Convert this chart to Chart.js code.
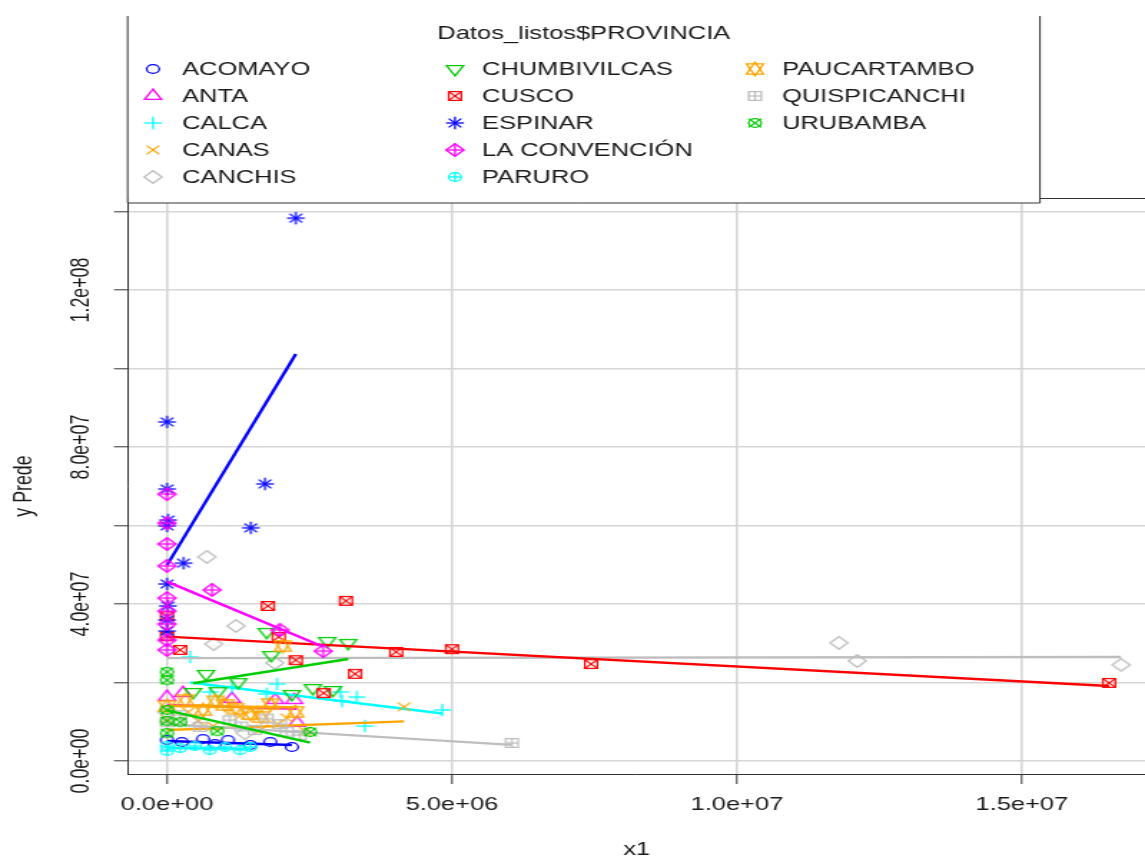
<!DOCTYPE html>
<html>
<head>
<meta charset="utf-8">
<script src="https://cdn.jsdelivr.net/npm/chart.js@4.4.1/dist/chart.umd.min.js"></script>
<style>
  html, body { margin: 0; padding: 0; background: #ffffff; overflow: hidden; }
</style>
</head>
<body>
<canvas id="plot" width="800" height="859" style="width:1145px;height:859px;display:block"></canvas>
<script>
// ---- data -------------------------------------------------------------
const provinces = ['ACOMAYO', 'ANTA', 'CALCA', 'CANAS', 'CANCHIS', 'CHUMBIVILCAS', 'CUSCO',
  'ESPINAR', 'LA CONVENCIÓN', 'PARURO', 'PAUCARTAMBO', 'QUISPICANCHI', 'URUBAMBA'];

const xTicks = [0, 5e6, 1e7, 1.5e7];
const xTickLabels = ['0.0e+00', '5.0e+06', '1.0e+07', '1.5e+07'];
const yTicks = [0, 2e7, 4e7, 6e7, 8e7, 1e8, 1.2e8, 1.4e8];
const yTickLabels = ['0.0e+00', '', '4.0e+07', '', '8.0e+07', '', '1.2e+08', ''];

// observations per province: [x1, y Prede]
const acomayo = [[0, 5.35e6], [2.6e5, 4.84e6], [6.3e5, 5.6e6], [8.4e5, 4.33e6], [1.07e6, 5.35e6],
  [1.46e6, 4.08e6], [1.81e6, 4.84e6], [2.19e6, 3.57e6]];
const anta = [[0, 1.63e7], [2.81e5, 1.73e7], [1.14e6, 1.58e7], [1.9e6, 1.55e7], [2.23e6, 1.55e7],
  [2.28e6, 9.7e6]];
const calca = [[4.04e5, 2.65e7], [7.54e5, 1.76e7], [1.14e6, 1.89e7], [1.75e6, 1.71e7], [1.93e6, 1.96e7],
  [3.04e6, 1.76e7], [3.07e6, 1.53e7], [3.33e6, 1.63e7], [3.47e6, 8.9e6], [4.83e6, 1.30e7]];
const canas = [[0, 1.07e7], [3.7e5, 1.25e7], [5.5e5, 1.02e7], [8.1e5, 8.9e6], [1.28e6, 1.15e7],
  [1.5e6, 1.3e7], [1.67e6, 8.2e6], [1.95e6, 9.4e6], [2.1e6, 1.10e7], [2.42e6, 7.6e6], [4.16e6, 1.38e7]];
const canchis = [[0, 1.25e7], [4.0e5, 1.04e7], [7.0e5, 5.2e7], [8.2e5, 2.98e7], [1.21e6, 3.44e7],
  [1.37e6, 7.1e6], [1.89e6, 2.5e7], [1.179e7, 3.01e7], [1.211e7, 2.55e7], [1.674e7, 2.45e7]];
const chumbivilcas = [[4.56e5, 1.76e7], [6.84e5, 2.22e7], [8.95e5, 1.78e7], [1.25e6, 2.01e7],
  [1.75e6, 3.29e7], [1.83e6, 2.70e7], [2.19e6, 1.71e7], [2.56e6, 1.86e7], [2.81e6, 3.06e7],
  [2.91e6, 1.81e7], [3.18e6, 3.01e7]];
const cusco = [[0, 3.69e7], [0, 3.18e7], [2.3e5, 2.83e7], [1.77e6, 3.95e7], [1.96e6, 3.16e7],
  [2.26e6, 2.57e7], [2.75e6, 1.73e7], [3.14e6, 4.08e7], [3.3e6, 2.22e7], [4.02e6, 2.78e7],
  [5.0e6, 2.85e7], [7.44e6, 2.47e7], [1.653e7, 1.99e7]];
const espinar = [[0, 8.64e7], [0, 6.93e7], [1.8e4, 6.14e7], [0, 5.99e7], [0, 4.51e7], [1.5e4, 3.95e7],
  [0, 3.59e7], [0, 3.31e7], [2.9e5, 5.04e7], [1.47e6, 5.94e7], [1.72e6, 7.06e7], [2.26e6, 1.383e8]];
const laConvencion = [[0, 6.8e7], [0, 6.06e7], [0, 5.53e7], [0, 4.97e7], [0, 4.15e7], [0, 3.82e7],
  [0, 3.49e7], [0, 3.08e7], [0, 2.83e7], [7.9e5, 4.36e7], [1.98e6, 3.34e7], [2.74e6, 2.8e7]];
const paruro = [[0, 3.82e6], [0, 2.55e6], [2.3e5, 3.31e6], [4.9e5, 3.82e6], [7.5e5, 2.8e6],
  [1.02e6, 3.57e6], [1.28e6, 2.8e6], [1.46e6, 3.57e6]];
const paucartambo = [[0, 1.4e7], [3.2e5, 1.55e7], [6.3e5, 1.3e7], [8.5e5, 1.52e7], [1.02e6, 1.43e7],
  [1.2e6, 1.33e7], [1.46e6, 1.2e7], [1.65e6, 1.12e7], [1.81e6, 1.45e7], [2.03e6, 2.93e7], [2.25e6, 1.25e7]];
const quispicanchi = [[0, 9.9e6], [2.3e5, 1.17e7], [5.8e5, 8.7e6], [1.1e6, 1.04e7], [1.3e6, 8.8e6],
  [1.54e6, 7.9e6], [1.75e6, 1.08e7], [1.98e6, 9.4e6], [2.1e6, 7.5e6], [2.33e6, 6.6e6], [6.05e6, 4.6e6]];
const urubamba = [[0, 2.27e7], [0, 2.06e7], [0, 1.3e7], [0, 1.02e7], [0, 7.1e6], [2.3e5, 9.9e6],
  [8.8e5, 7.6e6], [2.51e6, 7.4e6]];

// least-squares line of each province over its x range: [xStart, yStart, xEnd, yEnd]
const fitLines = [
  [0, 5.1e6, 2.19e6, 4.08e6],
  [0, 1.43e7, 2.28e6, 1.33e7],
  [4.04e5, 2.0e7, 4.83e6, 1.21e7],
  [0, 7.9e6, 4.16e6, 1.01e7],
  [0, 2.62e7, 1.674e7, 2.65e7],
  [4.56e5, 1.98e7, 3.18e6, 2.6e7],
  [0, 3.17e7, 1.653e7, 1.91e7],
  [0, 4.99e7, 2.26e6, 1.037e8],
  [0, 4.57e7, 2.74e6, 2.91e7],
  [0, 3.3e6, 1.46e6, 3.1e6],
  [0, 1.40e7, 2.25e6, 1.37e7],
  [0, 9.4e6, 6.05e6, 4.1e6],
  [0, 1.29e7, 2.51e6, 4.7e6]
];

const groupPoints = [acomayo, anta, calca, canas, canchis, chumbivilcas, cusco,
  espinar, laConvencion, paruro, paucartambo, quispicanchi, urubamba];

// ---- styling ------------------------------------------------------------
const palette = ['#0000FF', '#FF00FF', '#00FFFF', '#FFA500', '#BEBEBE', '#00CD00', '#FF0000'];
const colorOf = i => palette[i % palette.length];
const FONT = "'Liberation Sans', Arial, sans-serif";
const TEXT = '#1a1a1a';
const U = 4.4; // base symbol half-size

// plotting symbols 1..13
function drawPch(g, pch, cx, cy, u, color) {
  const s2 = Math.SQRT2 * u;
  const r = 1.5551 * u, yc = 0.7776 * u, xc = 1.3468 * u;
  g.save();
  g.strokeStyle = color;
  g.lineWidth = 1.3;
  const line = (x0, y0, x1, y1) => { g.beginPath(); g.moveTo(x0, y0); g.lineTo(x1, y1); g.stroke(); };
  const circle = rad => { g.beginPath(); g.arc(cx, cy, rad, 0, Math.PI * 2); g.stroke(); };
  const poly = pts => { g.beginPath(); g.moveTo(pts[0][0], pts[0][1]); for (let k = 1; k < pts.length; k++) g.lineTo(pts[k][0], pts[k][1]); g.closePath(); g.stroke(); };
  const plus = a => { line(cx - a, cy, cx + a, cy); line(cx, cy - a, cx, cy + a); };
  const times = a => { line(cx - a, cy - a, cx + a, cy + a); line(cx - a, cy + a, cx + a, cy - a); };
  const diamond = a => poly([[cx - a, cy], [cx, cy + a], [cx + a, cy], [cx, cy - a]]);
  const square = a => { g.beginPath(); g.rect(cx - a, cy - a, 2 * a, 2 * a); g.stroke(); };
  switch (pch) {
    case 1: circle(u); break;
    case 2: poly([[cx, cy - r], [cx + xc, cy + yc], [cx - xc, cy + yc]]); break;
    case 3: plus(s2); break;
    case 4: times(u); break;
    case 5: diamond(s2); break;
    case 6: poly([[cx, cy + r], [cx + xc, cy - yc], [cx - xc, cy - yc]]); break;
    case 7: square(u); times(u); break;
    case 8: times(u); plus(s2); break;
    case 9: diamond(s2); plus(s2); break;
    case 10: circle(u); plus(u); break;
    case 11: {
      const y2 = 0.5 * (yc + r);
      poly([[cx, cy + r], [cx + xc, cy - y2], [cx - xc, cy - y2]]);
      poly([[cx, cy - r], [cx + xc, cy + y2], [cx - xc, cy + y2]]);
      break;
    }
    case 12: square(u); plus(u); break;
    case 13: circle(u); times(u); break;
  }
  g.restore();
}

function markerCanvas(pch, color) {
  const c = document.createElement('canvas');
  c.width = 24; c.height = 24;
  drawPch(c.getContext('2d'), pch, 12, 12, U, color);
  return c;
}

// ---- datasets -----------------------------------------------------------
const datasets = [];
provinces.forEach((name, i) => {
  datasets.push({
    label: name,
    data: groupPoints[i].map(([x, y]) => ({ x, y })),
    pointStyle: markerCanvas(i + 1, colorOf(i)),
    pointRadius: 6,
    showLine: false,
    order: 100 - 2 * i
  });
  const f = fitLines[i];
  datasets.push({
    label: name + ' (ajuste)',
    data: [{ x: f[0], y: f[1] }, { x: f[2], y: f[3] }],
    showLine: true,
    borderColor: colorOf(i),
    borderWidth: 2.4,
    pointRadius: 0,
    fill: false,
    order: 99 - 2 * i
  });
});

// ---- decorations drawn around the plot ---------------------------------
const frame = {
  id: 'frame',
  afterDatasetsDraw(chart) {
    const { ctx, chartArea: a } = chart;
    ctx.save();
    ctx.strokeStyle = '#333';
    ctx.lineWidth = 1;
    ctx.beginPath();
    ctx.moveTo(a.left, a.top + 0.5);
    ctx.lineTo(a.right, a.top + 0.5);
    ctx.stroke();
    ctx.restore();
  }
};

const yLabels = {
  id: 'yLabels',
  afterDraw(chart) {
    const { ctx } = chart;
    const y = chart.scales.y;
    ctx.save();
    ctx.fillStyle = TEXT;
    ctx.font = `17.8px ${FONT}`;
    ctx.textAlign = 'center';
    ctx.textBaseline = 'middle';
    yTicks.forEach((v, k) => {
      if (!yTickLabels[k]) return;
      ctx.save();
      ctx.translate(57.6, y.getPixelForValue(v));
      ctx.rotate(-Math.PI / 2);
      ctx.fillText(yTickLabels[k], 0, 0);
      ctx.restore();
    });
    ctx.restore();
  }
};

const groupLegend = {
  id: 'groupLegend',
  afterDraw(chart) {
    const { ctx } = chart;
    const L = 89.2, R = 726.6, T = 16, B = 203;
    ctx.save();
    ctx.fillStyle = '#ffffff';
    ctx.fillRect(L, T, R - L, B - T);
    ctx.strokeStyle = '#333';
    ctx.lineWidth = 1;
    ctx.beginPath();
    ctx.moveTo(L, T); ctx.lineTo(L, B); ctx.lineTo(R, B); ctx.lineTo(R, T);
    ctx.stroke();
    ctx.fillStyle = TEXT;
    ctx.font = `17.8px ${FONT}`;
    ctx.textBaseline = 'middle';
    ctx.textAlign = 'center';
    ctx.fillText('Datos_listos$PROVINCIA', (L + R) / 2, 34);
    ctx.textAlign = 'left';
    const symX = [106.9, 317.9, 527.5], txtX = [127.2, 336.8, 546.4];
    provinces.forEach((name, i) => {
      const col = Math.floor(i / 5), row = i % 5;
      const yy = 70 + 27 * row;
      drawPch(ctx, i + 1, symX[col], yy - 1, U, colorOf(i));
      ctx.fillStyle = TEXT;
      ctx.fillText(name, txtX[col], yy);
    });
    ctx.restore();
  }
};

// ---- chart --------------------------------------------------------------
Chart.defaults.font.family = FONT;
Chart.defaults.font.size = 17.8;
Chart.defaults.color = TEXT;

new Chart(document.getElementById('plot'), {
  type: 'scatter',
  data: { datasets },
  options: {
    responsive: false,
    animation: false,
    devicePixelRatio: 1,
    layout: { autoPadding: false, padding: { top: 198, left: 0, right: 0, bottom: 0 } },
    plugins: { legend: { display: false }, tooltip: { enabled: false } },
    scales: {
      x: {
        type: 'linear',
        min: -6.8e5,
        max: 1.716e7,
        afterBuildTicks: s => { s.ticks = xTicks.map(v => ({ value: v })); },
        afterFit: s => { s.height = 85; },
        ticks: {
          padding: 10,
          maxRotation: 0,
          autoSkip: false,
          color: TEXT,
          callback: (v, k) => xTickLabels[k]
        },
        grid: { color: '#d6d6d6', lineWidth: 1.6, tickLength: 10, tickColor: '#333', tickWidth: 1 },
        border: { display: true, color: '#333', width: 1 },
        title: { display: true, text: 'x1', color: TEXT, font: { size: 17.8, lineHeight: 1 }, padding: { top: 0, bottom: 0 } }
      },
      y: {
        type: 'linear',
        min: -3.31e6,
        max: 1.4344e8,
        afterBuildTicks: s => { s.ticks = yTicks.map(v => ({ value: v })); },
        afterFit: s => { s.width = 89.6; },
        ticks: { display: false },
        grid: { color: '#d6d6d6', lineWidth: 1.6, tickLength: 10, tickColor: '#333', tickWidth: 1 },
        border: { display: true, color: '#333', width: 1 },
        title: { display: true, text: 'y Prede', color: TEXT, font: { size: 17.8, lineHeight: 1 }, padding: { top: 8, bottom: 0 } }
      }
    }
  },
  plugins: [frame, yLabels, groupLegend]
});
</script>
</body>
</html>
